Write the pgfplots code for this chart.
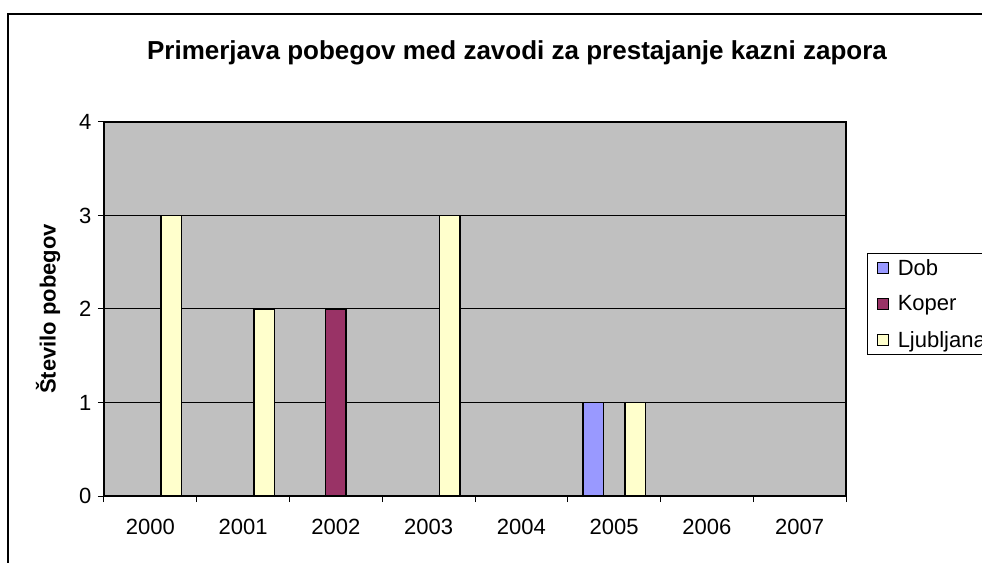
\documentclass[border=0pt]{standalone}
\usepackage{pgfplots}
\pgfplotsset{compat=1.18}
\usepackage{fontspec}
\setmainfont{Liberation Sans}
\definecolor{dob}{HTML}{9999FF}
\definecolor{koper}{HTML}{993366}
\definecolor{ljub}{HTML}{FFFFCC}
\definecolor{plotbg}{HTML}{C0C0C0}
\begin{document}
\begin{tikzpicture}[x=1pt,y=1pt]
\useasboundingbox (0,0) rectangle (982,562);
\clip (0,0) rectangle (982,562);
\fill[white] (0,0) rectangle (982,562);
\draw[line width=1.5pt] (8,-20) -- (8,548) -- (1010,548);
\node[font=\bfseries\fontsize{26}{30}\selectfont] at (517,509) {Primerjava pobegov med zavodi za prestajanje kazni zapora};
\begin{axis}[
  at={(104pt,66pt)}, anchor=south west,
  scale only axis, width=742pt, height=374pt,
  xmin=-0.5, xmax=7.5, ymin=0, ymax=4,
  xtick={-0.5,0.5,...,7.5},
  xticklabels={2000,2001,2002,2003,2004,2005,2006,2007,{}},
  xticklabel style={xshift=46.375pt, yshift=-14pt},
  ytick={0,1,2,3,4},
  yticklabel style={xshift=-3pt},
  xtick pos=bottom, ytick pos=left,
  tick align=outside, major tick length=6pt,
  tick style={black, line width=1pt},
  axis line style={black, line width=1.5pt},
  axis background/.style={fill=plotbg},
  ymajorgrids, major grid style={black, line width=1pt},
  ticklabel style={font=\fontsize{22}{26}\selectfont},
  /pgf/number format/assume math mode=true,
  ylabel={\bfseries Število pobegov},
  every axis y label/.style={at={(axis description cs:-0.0755,0.5)}, rotate=90, anchor=center, font=\fontsize{22}{26}\selectfont},
  legend style={at={(1.0283,0.65)}, anchor=north west, draw=black, line width=1pt, fill=white,
    font=\fontsize{22}{26}\selectfont, row sep=15pt, inner xsep=9pt, inner ysep=4pt},
  legend cell align=left,
  legend image code/.code={\draw[#1, line width=1pt] (0pt,-5.5pt) rectangle (11pt,5.5pt); \path (18pt,0pt);},
]
\addplot[ybar, bar width=0.22, bar shift=-0.227, fill=dob, draw=black, line width=1.5pt] coordinates {(5,1)};
\addplot[ybar, bar width=0.22, bar shift=0, fill=koper, draw=black, line width=1.5pt] coordinates {(2,2)};
\addplot[ybar, bar width=0.22, bar shift=0.227, fill=ljub, draw=black, line width=1.5pt] coordinates {(0,3) (1,2) (3,3) (5,1)};
\legend{Dob,Koper,Ljubljana}
\end{axis}
\end{tikzpicture}
\end{document}
